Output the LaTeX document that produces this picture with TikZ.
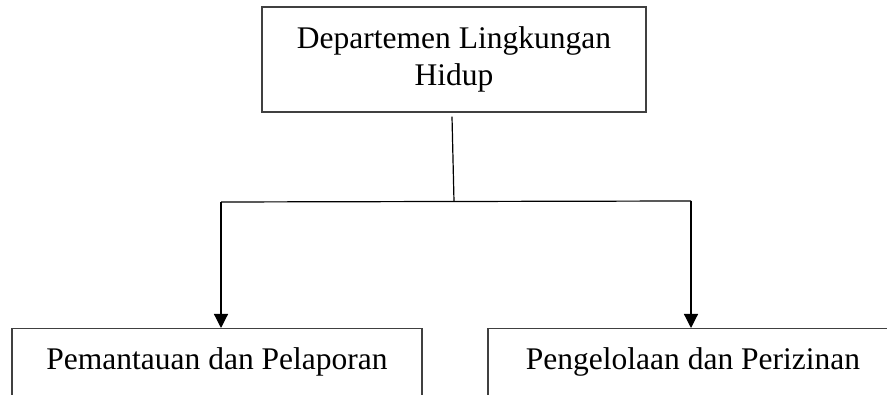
\documentclass[tikz,border=0pt]{standalone}
\usepackage{fontspec}
\setmainfont{Liberation Serif}
\usetikzlibrary{arrows.meta,calc}
\begin{document}
\begin{tikzpicture}[x=1pt,y=1pt,
  boxline/.style={draw=black!75, line width=1.3pt},
  conn/.style={draw=black, line width=1.2pt},
  arr/.style={conn, -{Triangle[width=14pt,length=14pt]}},
  txt/.style={font=\fontsize{31.5}{37}\selectfont}]
\useasboundingbox (0,0) rectangle (887,395);
\clip (0,0) rectangle (887,395);
\node[boxline, txt, align=center, minimum width=384pt, minimum height=105pt, inner sep=0pt] (top) at (454,335.5) {Departemen Lingkungan\\Hidup};
\node[boxline, txt, anchor=north, minimum width=410pt, inner sep=0pt, text height=41pt, text depth=100pt] (left) at (217,67) {Pemantauan dan Pelaporan};
\node[boxline, txt, anchor=north, minimum width=410pt, inner sep=0pt, text height=41pt, text depth=100pt] (right) at (693,67) {Pengelolaan dan Perizinan};
\coordinate (vt) at ($(top.south)+(-2,-4)$);
\coordinate (jc) at (454,193.5);
\coordinate (jl) at (221,193);
\coordinate (jr) at (691,194);
\draw[conn] (vt) -- (jc);
\draw[conn] (jl) -- (jc) -- (jr);
\draw[arr] (jl) -- (jl |- left.north);
\draw[arr] (jr) -- (jr |- right.north);
\end{tikzpicture}
\end{document}
